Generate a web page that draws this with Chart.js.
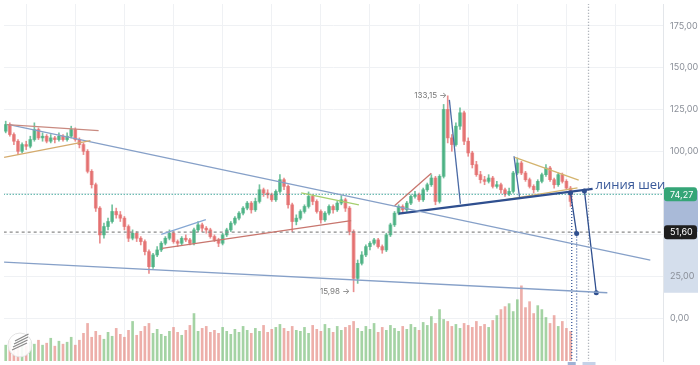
<!DOCTYPE html>
<html>
<head>
<meta charset="utf-8">
<script src="https://cdn.jsdelivr.net/npm/chart.js@4"></script>
<style>
  html, body { margin: 0; padding: 0; background: #fff; }
  #wrap { width: 700px; height: 365px; position: relative; }
</style>
</head>
<body>
<div id="wrap"><canvas id="chart"></canvas></div>
<script>
// daily candles, bar index starts at 1
const opens = [112,116,110,106,100,104,103,107,113,108, 109,106,108,107,109,107,109,113,107,104,
  100,88,80,66,50,55,58,64,62,60, 55,48,51,48,46,40,31,38,41,45, 48,51,46,45,48,47,45,53,56,54,
  53,49,47,45,50,53,57,60,63,66, 69,65,70,77,75,74,71,76,83,79, 68,58,60,64,67,73,70,64,59,63,
  67,65,69,71,66,52,24,33,38,43, 45,47,43,41,50,56,63,67,65,69, 73,74,71,77,80,84,70,85,125,108,
  104,115,123,106,99,92,86,83,82,84, 79,80,77,74.5,76,87,93,87,83,79, 77,82,86,90,83,80,86,82,78];
const highs = [118,117,111,107,105,106,109,117,114,111, 110,110,109,111,110,111,115,114,108,105,
  101,89,81,67,57,60,68,66,64,61, 56,53,52,49,47,41,39,43,46,49, 53,52,47,49,50,48,54,58,57,55,
  54,50,48,51,54,58,61,64,67,70, 70,72,80,78,77,75,77,86,84,80, 69,62,65,68,75.7,74,71,65,64,68,
  68,70,73.5,72,67,53,35,40,44,46, 48,48,44,51,57,64,68,68,70,74, 76,75,78,81,86,85,86,128,133.15,110,
  117,126,124,108,100,94,88,85,86,85, 82,81,78,78,88,96,94,88,84,80, 83,87,92,91,84,87,87,83,79];
const lows = [111,109,104,98,99,101,102,106,107,106, 105,105,105,106,106,106,108,106,102,98,
  87,78,64,45,48,53,57,60,58,53, 46,47,46,44,38,27,30,37,40,44, 47,45,43,44,46,44,44,52,52,51,
  48,46,43,44,49,52,56,59,62,65, 63,64,69,73,72,70,70,75,77,66, 52,56,59,63,66,68,63,57,58,62,
  63,64,68,64,50,15.98,21,32,37,41, 44,42,39,40,49,55,62,63,64,68, 72,70,70,76,79,68,69,84,105,100,
  103,113,104,97,90,85,81,80,81,78, 78,75,73,73.5,75,86,86,82,78,75, 76,81,85,82,78,79,81,77,67];
const closes = [116,110,106,100,104,103,107,113,108,109, 106,108,107,109,107,109,113,107,104,100,
  88,80,66,50,55,58,64,62,60,55, 48,51,48,46,40,31,38,41,45,48, 51,46,45,48,47,45,53,56,54,53,
  49,47,45,50,53,57,60,63,66,69, 65,70,77,75,74,71,76,83,79,68, 58,60,64,67,73,70,64,59,63,67,
  65,69,71,66,52,24,33,38,43,45, 47,43,41,50,56,63,67,65,69,73, 74,71,77,80,84,70,85,125,108,104,
  115,123,106,99,92,86,83,82,84,79, 80,77,74.5,76,87,93,87,83,79,77, 82,86,90,83,80,86,82,78,70];
const volumes = [16,20,14,18,22,15,19,17,21,16,18,23,15,20,17,19,24,16,21,
  28,38,24,30,26,22,29,25,33,27,24,31,40,
  26,30,35,38,28,32,27,25,30,34,29,26,31,36,
  48,30,33,35,29,31,
  28,34,30,27,32,29,35,31,28,33,30,36,29,32,34,37,33,30,35,31,
  30,34,28,36,32,30,37,33,29,35,31,34,36,40,33,30,35,32,38,29,34,31,36,33,30,35,32,37,34,31,39,36,45,
  38,52,42,40,35,37,
  33,38,36,34,40,35,37,34,41,46,52,55,
  58,50,62,76,54,60,48,56,52,
  44,38,46,35,40,33,30];

const yTicks = [0, 25, 50, 75, 100, 125, 150, 175];
const xGrid = [12, 24, 36, 48, 60, 72, 84, 96, 108, 120, 132, 144, 156];

const lastPrice = 74.27;
const targetPrice = 51.60;
const peakPrice = 133.15;
const lowPrice = 15.98;
const necklineLabel = 'линия шеи';

// hand drawn lines: [[bar, price], [bar, price]]
const trendLines = [
  { pts: [[1.3, 115.9], [23.7, 112.4]], color: '#c98a80' },
  { pts: [[0.6, 96.4], [21.7, 106.4]], color: '#d4aa6c' },
  { pts: [[1.8, 115.9], [158.5, 34.9]], color: '#86a0c8' },
  { pts: [[0.6, 33.7], [148, 15.4]], color: '#86a0c8' },
  { pts: [[39, 50.3], [49.9, 59.1]], color: '#86a8d4' },
  { pts: [[39.2, 42], [85.4, 58.5]], color: '#c8766e' },
  { pts: [[73.2, 75.1], [87.3, 68]], color: '#a5cf6e' },
  { pts: [[96, 67.4], [105, 86.9]], color: '#c8766e' },
  { pts: [[97, 62.7], [144.4, 77.5]], color: '#2f4f8f', width: 2.2 },
  { pts: [[125.4, 96.4], [141, 82.8]], color: '#d4b46e' },
  { pts: [[121.3, 70.4], [140.7, 78.1]], color: '#d4b46e' },
  { pts: [[109.4, 130.7], [112.1, 68.6]], color: '#4a6aa5' },
  { pts: [[125.2, 97], [126.6, 71.6]], color: '#4a6aa5' },
  { pts: [[139, 75.1], [140.5, 50.9]], color: '#2f4f8f', dots: true },
  { pts: [[142.4, 76.3], [145.3, 15.4]], color: '#2f4f8f', dots: true },
  { pts: [[139.3, 75], [139.3, -26]], color: '#3d5d9d', dash: [1, 2] },
  { pts: [[140.5, 50.9], [140.5, -26]], color: '#3d5d9d', dash: [1, 2] },
  { pts: [[143.4, 190], [143.4, -26]], color: '#9aa0a8', dash: [1, 2] },
  { pts: [[0.5, lastPrice], [162, lastPrice]], color: '#2a9d8f', dash: [1, 2] },
  { pts: [[0.5, targetPrice], [162, targetPrice]], color: '#8a8a8a', dash: [3, 3] }
];

const up = 'rgba(60,170,120,0.72)';
const down = 'rgba(226,100,100,0.72)';
const isUp = closes.map((c, i) => c >= opens[i]);

const bodies = closes.map((c, i) => ({ x: i + 1, y: [opens[i], c] }));
const wicks = closes.map((c, i) => ({ x: i + 1, y: [lows[i], highs[i]] }));
const vols = volumes.map((v, i) => ({ x: i + 1, y: v }));

const fmt = v => v.toFixed(2).replace('.', ',');

const lineSets = trendLines.map(t => ({
  type: 'line',
  data: t.pts.map(p => ({ x: p[0], y: p[1] })),
  borderColor: t.color,
  borderWidth: t.width || 1.3,
  borderDash: t.dash || [],
  pointRadius: t.dots ? 2.5 : 0,
  pointBackgroundColor: t.color,
  pointBorderWidth: 0,
  yAxisID: 'y',
  order: 1
}));

const noPad = s => {
  s.paddingTop = 0; s.paddingBottom = 0; s.paddingLeft = 0; s.paddingRight = 0;
};

const overlay = {
  id: 'overlay',
  beforeDraw(chart) {
    const ctx = chart.ctx, y = chart.scales.y, a = chart.chartArea;
    ctx.save();
    ctx.fillStyle = '#a9bad8';
    ctx.fillRect(a.right + 1, y.getPixelForValue(76.5), 34, y.getPixelForValue(targetPrice) - y.getPixelForValue(76.5));
    ctx.fillStyle = '#d4deec';
    ctx.fillRect(a.right + 1, y.getPixelForValue(targetPrice), 34, y.getPixelForValue(15.4) - y.getPixelForValue(targetPrice));
    ctx.restore();
  },
  afterDatasetsDraw(chart) {
    const ctx = chart.ctx, x = chart.scales.x, y = chart.scales.y;
    ctx.save();
    ctx.font = '8px Inter, sans-serif';
    ctx.textBaseline = 'middle';
    ctx.textAlign = 'right';
    ctx.fillStyle = '#777';
    ctx.fillText(fmt(peakPrice) + ' →', x.getPixelForValue(108.8), y.getPixelForValue(peakPrice));
    ctx.fillText(fmt(lowPrice) + ' →', x.getPixelForValue(85.1), y.getPixelForValue(lowPrice));
    ctx.font = '13px "Open Sans", sans-serif';
    ctx.textAlign = 'left';
    ctx.textBaseline = 'alphabetic';
    ctx.fillStyle = '#3a5a9a';
    ctx.fillText(necklineLabel, x.getPixelForValue(145.1), y.getPixelForValue(77.5));
    // watermark logo
    ctx.beginPath();
    ctx.arc(20, 345, 12, 0, Math.PI * 2);
    ctx.fillStyle = 'rgba(255,255,255,0.9)';
    ctx.fill();
    ctx.strokeStyle = '#e3e3e3';
    ctx.stroke();
    ctx.strokeStyle = '#8a8a8a';
    ctx.lineWidth = 1.3;
    for (let k = 0; k < 4; k++) {
      ctx.beginPath();
      ctx.moveTo(12 + k, 350 - k * 3);
      ctx.lineTo(27 + k * 0.5, 343 - k * 3);
      ctx.stroke();
    }
    ctx.restore();
  },
  afterDraw(chart) {
    const ctx = chart.ctx, x = chart.scales.x, y = chart.scales.y, a = chart.chartArea;
    ctx.save();
    const box = (val, fill, txt) => {
      const py = y.getPixelForValue(val);
      ctx.fillStyle = fill;
      ctx.beginPath();
      ctx.roundRect(a.right + 1, py - 7, 33, 14, 3);
      ctx.fill();
      ctx.fillStyle = '#fff';
      ctx.font = '9px Inter, sans-serif';
      ctx.textAlign = 'left';
      ctx.textBaseline = 'middle';
      ctx.fillText(txt, a.right + 7, py + 0.5);
    };
    box(lastPrice, '#35a577', fmt(lastPrice));
    box(targetPrice, '#1e1e1e', fmt(targetPrice));
    ctx.fillStyle = '#9fb3d6';
    ctx.fillRect(x.getPixelForValue(139.3) - 4, a.bottom + 1, 8, 4);
    ctx.fillStyle = '#c5d2e8';
    ctx.fillRect(x.getPixelForValue(143.4) - 6, a.bottom + 1, 13, 4);
    ctx.restore();
  }
};

new Chart(document.getElementById('chart'), {
  type: 'bar',
  data: {
    datasets: [
      ...lineSets,
      {
        data: bodies,
        backgroundColor: isUp.map(u => u ? up : down),
        barThickness: 3,
        minBarLength: 1,
        grouped: false,
        yAxisID: 'y',
        order: 3
      },
      {
        data: wicks,
        backgroundColor: isUp.map(u => u ? up : down),
        barThickness: 1,
        grouped: false,
        yAxisID: 'y',
        order: 4
      },
      {
        data: vols,
        backgroundColor: isUp.map(u => u ? 'rgba(90,175,90,0.55)' : 'rgba(222,110,100,0.55)'),
        barThickness: 2,
        grouped: false,
        yAxisID: 'yv',
        order: 5
      }
    ]
  },
  options: {
    responsive: true,
    maintainAspectRatio: false,
    animation: false,
    layout: { padding: 0 },
    plugins: { legend: { display: false }, tooltip: { enabled: false } },
    scales: {
      x: {
        type: 'linear',
        min: 0.58,
        max: 161.6,
        offset: false,
        afterBuildTicks: s => { s.ticks = xGrid.map(v => ({ value: v })); },
        afterFit: s => { s.height = 4; noPad(s); },
        ticks: { display: false },
        grid: { color: '#eff1f4', drawTicks: false },
        border: { display: false }
      },
      y: {
        position: 'right',
        min: -25.4,
        max: 188.05,
        afterBuildTicks: s => { s.ticks = yTicks.map(v => ({ value: v })); },
        afterFit: s => { s.width = 37; noPad(s); },
        ticks: {
          padding: 7,
          color: '#8a8f98',
          font: { size: 9, family: 'Inter, sans-serif' },
          callback: v => fmt(v)
        },
        grid: { color: '#eff1f4', drawTicks: false },
        border: { color: '#e3e6ea' }
      },
      yv: {
        display: false,
        min: 0,
        max: 361,
        afterFit: noPad
      }
    }
  },
  plugins: [overlay]
});
</script>
</body>
</html>
